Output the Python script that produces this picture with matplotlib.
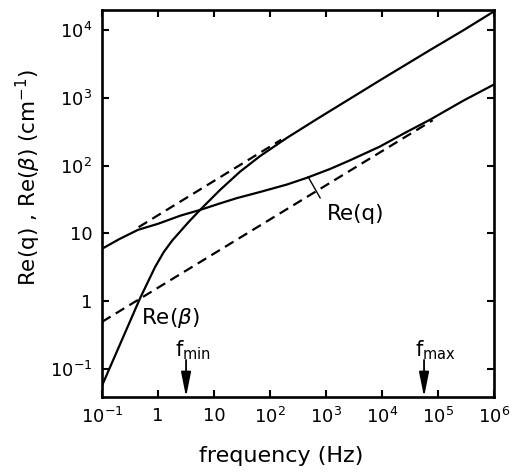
import numpy as np
import matplotlib
matplotlib.use('Agg')
import matplotlib.pyplot as plt
from matplotlib.ticker import FixedLocator, FixedFormatter, NullLocator

plt.rcParams['font.family'] = ['DejaVu Sans']
plt.rcParams['mathtext.fontset'] = 'dejavusans'
plt.rcParams['mathtext.default'] = 'regular'

# Re(beta) (Hz, cm^-1)
f_beta = [0.1, 0.479, 0.883, 1.26, 1.78, 2.51, 3.55, 5.62, 12.8, 29.1, 66.1,
          200, 692, 2690, 9120, 7.24e4, 2.82e5, 1e6]
re_beta = [0.056, 1.10, 3.16, 5.25, 7.76, 10.7, 14.8, 22.1, 43.7, 81.3, 138,
           257, 490, 977, 1820, 5130, 10000, 19100]

# Re(q)
f_q = [0.1, 0.2, 0.436, 1, 2.51, 5.62, 12.6, 25.7, 66.1, 200, 457, 1175,
       2690, 9120, 2.51e4, 7.24e4, 2.82e5, 1e6]
re_q = [5.89, 8.13, 11.2, 13.8, 18.2, 22.1, 27.5, 33.1, 40.7, 52.5, 66.1,
        89.1, 120, 191, 302, 479, 912, 1585]

# asymptotes (dashed)
f_dash_hi = [0.45, 158]
v_dash_hi = [12.3, 241]
f_dash_lo = [0.1, 8.0e4]
v_dash_lo = [0.49, 468]

xticks = [1e-1, 1, 10, 1e2, 1e3, 1e4, 1e5, 1e6]
xticklabels = [r'$10^{-1}$', '1', '10', r'$10^{2}$', r'$10^{3}$', r'$10^{4}$',
               r'$10^{5}$', r'$10^{6}$']
yticks = [1e-1, 1, 10, 1e2, 1e3, 1e4]
yticklabels = [r'$10^{-1}$', '1', '10', r'$10^{2}$', r'$10^{3}$', r'$10^{4}$']

f_min = 3.16
f_max = 5.6e4

fig = plt.figure(figsize=(5.18, 4.72), dpi=100)
ax = fig.add_axes([0.197, 0.159, 0.757, 0.820])

lw = 1.6
dash = (4.5, 2.7)
ax.plot(f_beta, re_beta, color='black', lw=lw)
ax.plot(f_q, re_q, color='black', lw=lw)
ax.plot(f_dash_hi, v_dash_hi, color='black', lw=lw, dashes=dash)
ax.plot(f_dash_lo, v_dash_lo, color='black', lw=lw, dashes=dash)

ax.set_xscale('log')
ax.set_yscale('log')
ax.set_xlim(0.1, 1e6)
ax.set_ylim(0.038, 2.0e4)

ax.xaxis.set_major_locator(FixedLocator(xticks))
ax.xaxis.set_major_formatter(FixedFormatter(xticklabels))
ax.yaxis.set_major_locator(FixedLocator(yticks))
ax.yaxis.set_major_formatter(FixedFormatter(yticklabels))
ax.xaxis.set_minor_locator(NullLocator())
ax.yaxis.set_minor_locator(NullLocator())

ax.tick_params(which='major', direction='in', length=5, width=1.5,
               top=True, right=True, labelsize=13, pad=7)
for sp in ax.spines.values():
    sp.set_linewidth(1.9)

# curve labels
ax.text(3365, 15.7, 'Re(q)', fontsize=15.5, ha='center', va='baseline')
ax.plot([478, 782], [68, 33.3], color='black', lw=1.0)
ax.text(1.67, 0.455, r'Re($\mathit{\beta}$)', fontsize=15.5, ha='center',
        va='baseline')

# frequency limits
arrow = dict(arrowstyle='-|>,head_length=1.5,head_width=0.3',
             color='black', lw=1.3, shrinkA=0, shrinkB=0)
ax.annotate('', xy=(f_min, 0.038), xytext=(f_min, 0.134), arrowprops=arrow)
ax.text(2.01, 0.153, r'f$_{min}$', fontsize=15, ha='left', va='baseline')
ax.annotate('', xy=(f_max, 0.038), xytext=(f_max, 0.134), arrowprops=arrow)
ax.text(3.89e4, 0.153, r'f$_{max}$', fontsize=15, ha='left', va='baseline')

fig.text(0.543, 0.021, 'frequency (Hz)', fontsize=16, ha='center',
         va='baseline')
fig.text(0.055, 0.624, r'Re(q) , Re($\mathit{\beta}$) (cm$^{-1}$)',
         fontsize=15.5, rotation=90, ha='center', va='center')

fig.savefig('out.png', dpi=100)
